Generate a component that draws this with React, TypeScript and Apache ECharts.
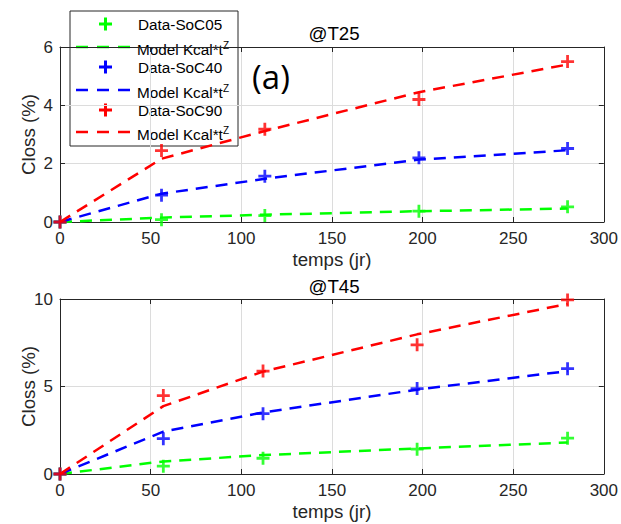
import React, { useEffect, useRef } from "react";
import * as echarts from "echarts";

const daysT25 = [0, 56, 113, 198, 280];
const dataT25_SoC05 = [0, 0.08, 0.22, 0.37, 0.52];
const dataT25_SoC40 = [0, 0.92, 1.57, 2.2, 2.52];
const dataT25_SoC90 = [0, 2.45, 3.18, 4.2, 5.5];
const modelT25_SoC05 = [0, 0.15, 0.25, 0.37, 0.46];
const modelT25_SoC40 = [0, 0.97, 1.48, 2.14, 2.46];
const modelT25_SoC90 = [0, 2.17, 3.12, 4.45, 5.4];

const daysT45 = [0, 57, 112, 197, 280];
const dataT45_SoC05 = [0, 0.45, 0.9, 1.42, 2.05];
const dataT45_SoC40 = [0, 2.02, 3.45, 4.88, 6.02];
const dataT45_SoC90 = [0, 4.48, 5.88, 7.38, 9.95];
const modelT45_SoC05 = [0, 0.72, 1.08, 1.46, 1.8];
const modelT45_SoC40 = [0, 2.42, 3.52, 4.82, 5.88];
const modelT45_SoC90 = [0, 3.88, 5.85, 7.98, 9.72];

const seriesColors = ["#00ff00", "#0000ff", "#ff0000"];
const legendLabels = ["Data-SoC05", "Model Kcal*t", "Data-SoC40", "Model Kcal*t", "Data-SoC90", "Model Kcal*t"];
const plotTitles = ["@T25", "@T45"];
const xTickMax = 300;
const yMaxes = [6, 10];
const yIntervals = [2, 5];

const PLUS = "path://M5.5,0H8.5V5.5H14V8.5H8.5V14H5.5V8.5H0V5.5H5.5Z";
const FONT = "Liberation Sans, Arial, sans-serif";
const AX = "#262626";

function zip(xs: number[], ys: number[]) {
  return xs.map((x, i) => [x, ys[i]]);
}

export default function App() {
  const ref = useRef<HTMLDivElement>(null);
  useEffect(() => {
    if (!ref.current) return;
    const chart = echarts.init(ref.current, undefined, { renderer: "svg" });

    const grids = [
      { left: 60, top: 47, width: 548, height: 175, show: false },
      { left: 60, top: 299, width: 548, height: 175, show: false },
    ];

    const xAxes: any[] = [];
    const yAxes: any[] = [];
    [0, 1].forEach((g) => {
      xAxes.push({
        type: "value", gridIndex: g, min: 0, max: xTickMax, interval: 50,
        position: "bottom",
        name: "temps (jr)", nameLocation: "middle", nameGap: 28, nameMoveOverlap: false,
        nameTextStyle: { fontFamily: FONT, fontSize: 18.7, color: AX },
        axisLine: { show: true, onZero: false, lineStyle: { color: AX, width: 1 } },
        axisTick: { show: true, inside: true, length: 5, lineStyle: { color: AX } },
        axisLabel: { fontFamily: FONT, fontSize: 17, color: AX, margin: 8 },
        splitLine: { show: true, lineStyle: { color: "#dcdcdc", width: 1 } },
      });
      xAxes.push({
        type: "value", gridIndex: g, min: 0, max: xTickMax, interval: 50,
        position: "top",
        axisLine: { show: true, onZero: false, lineStyle: { color: AX, width: 1 } },
        axisTick: { show: true, inside: true, length: 5, lineStyle: { color: AX } },
        axisLabel: { show: false },
        splitLine: { show: false },
      });
      yAxes.push({
        type: "value", gridIndex: g, min: 0, max: yMaxes[g], interval: yIntervals[g],
        position: "left",
        name: "Closs (%)", nameLocation: "middle", nameGap: 22, nameMoveOverlap: false,
        nameTextStyle: { fontFamily: FONT, fontSize: 18.7, color: AX },
        axisLine: { show: true, onZero: false, lineStyle: { color: AX, width: 1 } },
        axisTick: { show: true, inside: true, length: 5, lineStyle: { color: AX } },
        axisLabel: { fontFamily: FONT, fontSize: 17, color: AX, margin: 7 },
        splitLine: { show: true, lineStyle: { color: "#dcdcdc", width: 1 } },
      });
      yAxes.push({
        type: "value", gridIndex: g, min: 0, max: yMaxes[g], interval: yIntervals[g],
        position: "right",
        axisLine: { show: true, onZero: false, lineStyle: { color: AX, width: 1 } },
        axisTick: { show: true, inside: true, length: 5, lineStyle: { color: AX } },
        axisLabel: { show: false },
        splitLine: { show: false },
      });
    });

    const plots = [
      { days: daysT25, data: [dataT25_SoC05, dataT25_SoC40, dataT25_SoC90], model: [modelT25_SoC05, modelT25_SoC40, modelT25_SoC90] },
      { days: daysT45, data: [dataT45_SoC05, dataT45_SoC40, dataT45_SoC90], model: [modelT45_SoC05, modelT45_SoC40, modelT45_SoC90] },
    ];

    const series: any[] = [];
    plots.forEach((p, g) => {
      p.data.forEach((d, k) => {
        series.push({
          type: "scatter", xAxisIndex: g * 2, yAxisIndex: g * 2,
          data: zip(p.days, d), symbol: PLUS, symbolSize: 13,
          itemStyle: { color: seriesColors[k] }, z: 3 + k * 2,
        });
        series.push({
          type: "line", xAxisIndex: g * 2, yAxisIndex: g * 2,
          data: zip(p.days, p.model[k]), showSymbol: false,
          lineStyle: { color: seriesColors[k], width: 2.5, type: [12, 8] },
          z: 4 + k * 2,
        });
      });
    });

    const legendX = 70, legendY = 11, legendW = 168, legendH = 135;
    const rowYs = [24, 47, 67, 90, 110, 132];
    const legendChildren: any[] = [
      { type: "rect", shape: { x: legendX, y: legendY, width: legendW, height: legendH }, style: { fill: "#fff", stroke: "#262626", lineWidth: 1 } },
    ];
    legendLabels.forEach((lab, i) => {
      const c = seriesColors[Math.floor(i / 2)];
      const y = rowYs[i];
      if (i % 2 === 0) {
        legendChildren.push({ type: "rect", shape: { x: 99, y: y - 1.5, width: 13, height: 3 }, style: { fill: c } });
        legendChildren.push({ type: "rect", shape: { x: 104, y: y - 6.5, width: 3, height: 13 }, style: { fill: c } });
        legendChildren.push({ type: "text", x: 138, y, style: { text: lab, font: `15.3px ${FONT}`, fill: "#000", verticalAlign: "middle" } });
      } else {
        legendChildren.push({ type: "line", shape: { x1: 76, y1: y, x2: 132, y2: y }, style: { stroke: c, lineWidth: 2.5, lineDash: [12, 9] } });
        legendChildren.push({ type: "text", x: 137, y: y + 2, style: { text: lab, font: `15.3px ${FONT}`, fill: "#000", verticalAlign: "middle" } });
        legendChildren.push({ type: "text", x: 223, y: y - 2, style: { text: "Z", font: `10px ${FONT}`, fill: "#000", verticalAlign: "middle" } });
      }
    });

    chart.setOption({
      animation: false,
      backgroundColor: "#fff",
      grid: grids,
      xAxis: xAxes,
      yAxis: yAxes,
      series,
      graphic: [
        { type: "text", x: 334, y: 33, style: { text: plotTitles[0], font: `18.7px ${FONT}`, fill: "#000", align: "center", verticalAlign: "middle" }, z: 10 },
        { type: "text", x: 334, y: 286, style: { text: plotTitles[1], font: `18.7px ${FONT}`, fill: "#000", align: "center", verticalAlign: "middle" }, z: 10 },
        { type: "text", x: 271, y: 76, style: { text: "(a)", font: `33px "Open Sans", sans-serif`, fill: "#000", align: "center", verticalAlign: "middle" }, z: 10 },
        { type: "group", z: 100, children: legendChildren },
      ],
    });
    return () => chart.dispose();
  }, []);
  return <div ref={ref} style={{ position: "fixed", left: 0, top: 0, width: 621, height: 524 }} />;
}
